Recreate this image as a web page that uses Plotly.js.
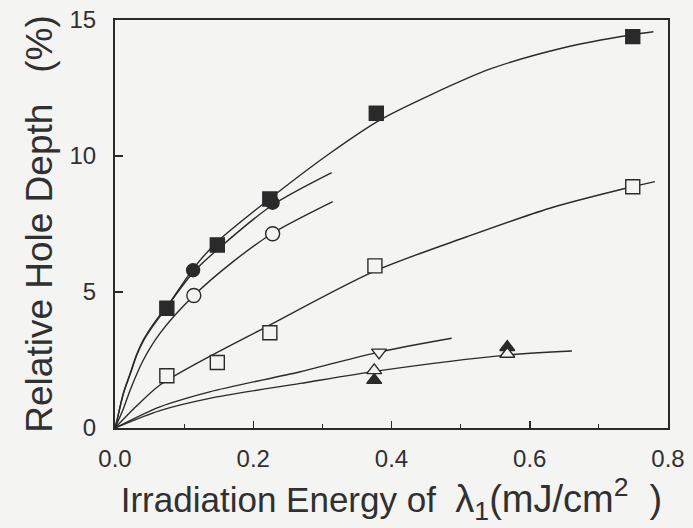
<!DOCTYPE html>
<html>
<head>
<meta charset="utf-8">
<script src="https://cdn.plot.ly/plotly-3.0.1.min.js"></script>
<style>html,body{margin:0;padding:0;background:#f4f4f2;}#chart{width:693px;height:528px;}</style>
</head>
<body>
<div id="chart"></div>
<script>
// ---- measured data points ----
const filledSquareX = [0.075, 0.148, 0.224, 0.378, 0.749];
const filledSquareY = [4.40, 6.73, 8.42, 11.57, 14.39];
const filledCircleX = [0.113, 0.228];
const filledCircleY = [5.80, 8.28];
const openCircleX = [0.114, 0.228];
const openCircleY = [4.87, 7.14];
const openSquareX = [0.075, 0.148, 0.224, 0.376, 0.749];
const openSquareY = [1.92, 2.41, 3.50, 5.96, 8.87];
const openDownTriX = [0.382];
const openDownTriY = [2.78];
const openUpTriX = [0.375, 0.5675];
const openUpTriY = [2.12, 2.72];
const filledUpTriX = [0.375, 0.5675];
const filledUpTriY = [1.76, 2.97];

// ---- fitted curves ----
const curveAX = [0, 0.0024, 0.012, 0.022, 0.031, 0.041, 0.053, 0.065, 0.075, 0.113, 0.148, 0.225, 0.311, 0.383, 0.456, 0.543, 0.649, 0.745, 0.779];
const curveAY = [0, 0.23, 1.27, 2.01, 2.68, 3.24, 3.73, 4.15, 4.45, 5.85, 6.85, 8.45, 10.1, 11.32, 12.24, 13.20, 13.98, 14.45, 14.57];
const curveBX = [0, 0.0024, 0.012, 0.022, 0.031, 0.041, 0.053, 0.065, 0.113, 0.150, 0.228, 0.3135];
const curveBY = [0, 0.23, 1.25, 1.98, 2.65, 3.20, 3.68, 4.10, 5.72, 6.60, 8.20, 9.39];
const curveCX = [0, 0.012, 0.022, 0.041, 0.065, 0.114, 0.170, 0.228, 0.315];
const curveCY = [0, 0.70, 1.40, 2.50, 3.48, 4.87, 6.10, 7.16, 8.32];
const curveDX = [0, 0.030, 0.065, 0.123, 0.210, 0.374, 0.509, 0.629, 0.745, 0.781];
const curveDY = [0, 0.78, 1.58, 2.44, 3.60, 5.75, 7.03, 8.08, 8.85, 9.06];
const curveEX = [0, 0.065, 0.137, 0.268, 0.383, 0.487];
const curveEY = [0, 0.78, 1.33, 2.07, 2.80, 3.30];
const curveFX = [0, 0.065, 0.137, 0.268, 0.383, 0.567, 0.661];
const curveFY = [0, 0.64, 1.09, 1.64, 2.11, 2.68, 2.83];

const xTickVals = [0, 0.2, 0.4, 0.6, 0.8];
const xTickText = ['0.0', '0.2', '0.4', '0.6', '0.8'];
const yTickVals = [0, 5, 10, 15];
const yTickText = ['0', '5', '10', '15'];

const ink = '#2a2a2a';
const bg = '#f4f4f2';

function curve(x, y) {
  return {x: x, y: y, mode: 'lines', type: 'scatter', hoverinfo: 'skip',
          line: {color: ink, width: 1.4, shape: 'spline', smoothing: 0.8}};
}
function pts(x, y, symbol, size, filled) {
  return {x: x, y: y, mode: 'markers', type: 'scatter',
          marker: {symbol: symbol, size: size, color: filled ? ink : bg,
                   line: {color: ink, width: 1.4}}};
}

const data = [
  curve(curveAX, curveAY), curve(curveBX, curveBY), curve(curveCX, curveCY),
  curve(curveDX, curveDY), curve(curveEX, curveEY), curve(curveFX, curveFY),
  pts(filledSquareX, filledSquareY, 'square', 14, true),
  pts(filledCircleX, filledCircleY, 'circle', 13, true),
  pts(openCircleX, openCircleY, 'circle', 14, false),
  pts(openSquareX, openSquareY, 'square', 14, false),
  pts(openDownTriX, openDownTriY, 'triangle-down', 13, false),
  pts(filledUpTriX, filledUpTriY, 'triangle-up', 13, true),
  pts(openUpTriX, openUpTriY, 'triangle-up', 13, false)
];

const nb = '\u00A0';
const layout = {
  width: 693, height: 528,
  margin: {l: 115, r: 25, t: 20, b: 100},
  paper_bgcolor: bg, plot_bgcolor: bg,
  showlegend: false,
  font: {family: 'Liberation Sans, Arial, sans-serif', color: '#303030', size: 24},
  xaxis: {
    range: [0, 0.8], tickvals: xTickVals, ticktext: xTickText,
    ticks: 'inside', ticklen: 7, tickwidth: 1.5, tickcolor: ink,
    minor: {dtick: 0.1, ticks: 'inside', ticklen: 4, tickcolor: ink, tickwidth: 1.2},
    showline: true, linecolor: ink, linewidth: 2, mirror: true,
    showgrid: false, zeroline: false, ticklabelstandoff: 8,
    tickfont: {size: 24},
    title: {text: 'Irradiation Energy of' + nb.repeat(2) + '<span style="font-size:38px">\u03BB<sub>1</sub>(mJ/cm<sup>2</sup>' + nb.repeat(2) + ')</span>', font: {size: 35}, standoff: 8}
  },
  yaxis: {
    range: [0, 15], tickvals: yTickVals, ticktext: yTickText,
    ticks: 'inside', ticklen: 8, tickwidth: 1.5, tickcolor: ink,
    showline: true, linecolor: ink, linewidth: 2, mirror: true,
    showgrid: false, zeroline: false, ticklabelstandoff: 12,
    tickfont: {size: 24},
    title: {text: 'Relative Hole Depth' + nb.repeat(3) + '(%)', font: {size: 37}, standoff: 6}
  }
};

Plotly.newPlot('chart', data, layout, {displayModeBar: false, staticPlot: true});
</script>
</body>
</html>
